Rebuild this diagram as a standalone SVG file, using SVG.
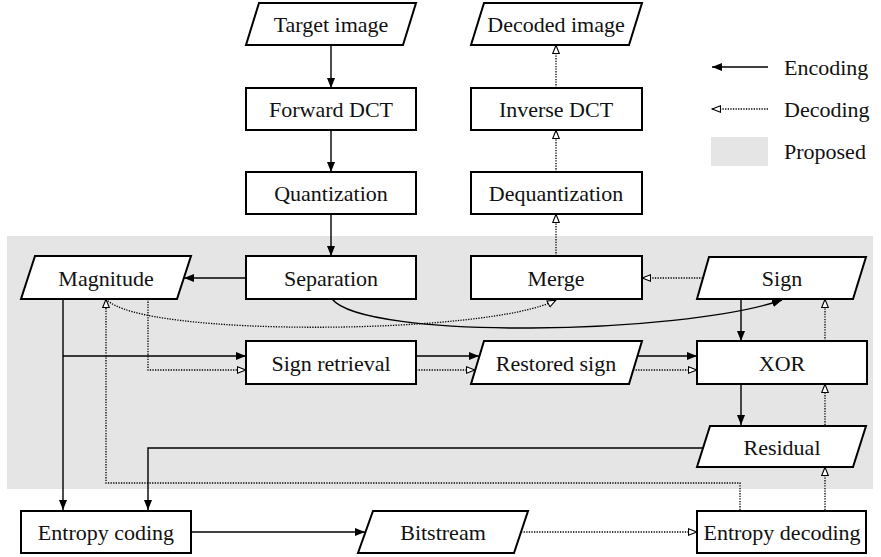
<svg xmlns="http://www.w3.org/2000/svg" width="881" height="557" viewBox="0 0 881 557">
<defs>
<marker id="fa" markerUnits="userSpaceOnUse" markerWidth="11" markerHeight="9" refX="10" refY="4" orient="auto"><path d="M0,0 L10,4 L0,8 z" fill="#000"/></marker>
<marker id="oa" markerUnits="userSpaceOnUse" markerWidth="11" markerHeight="9" refX="9.2" refY="4" orient="auto"><path d="M0.7,0.7 L9,4 L0.7,7.3 z" fill="#fff" stroke="#000" stroke-width="1.1"/></marker>
</defs>
<style>
.n{fill:#fff;stroke:#000;stroke-width:2}
.t{font-family:"Liberation Serif","Times New Roman",serif;font-size:22px;fill:#111;text-anchor:middle}
.lt{font-family:"Liberation Serif","Times New Roman",serif;font-size:22px;fill:#111}
.e{fill:none;stroke:#000;stroke-width:1.4;marker-end:url(#fa)}
.d{fill:none;stroke:#000;stroke-width:1.3;stroke-dasharray:1.3 1.3;marker-end:url(#oa)}
</style>
<rect id="proposed-region" x="7" y="236" width="866" height="253" fill="#e5e5e5"/>
<g id="connectors">
<path class="e" d="M331,45 V88"/>
<path class="e" d="M331,130 V172"/>
<path class="e" d="M331,214 V256"/>
<path class="e" d="M246,278 H184"/>
<path class="e" d="M332,299 C365,340 680,335 782,300"/>
<path class="e" d="M63,299 V510"/>
<path class="e" d="M63,356 H246"/>
<path class="e" d="M416,356 H479"/>
<path class="e" d="M637,356 H697"/>
<path class="e" d="M741,299 V341"/>
<path class="e" d="M741,384 V425"/>
<path class="e" d="M703,448 H148 V510"/>
<path class="e" d="M191,532 H365"/>
<path class="d" d="M521,532 H697"/>
<path class="d" d="M825,510 V467"/>
<path class="d" d="M825,425 V384"/>
<path class="d" d="M825,341 V299"/>
<path class="d" d="M703,278 H642"/>
<path class="d" d="M556,256 V214"/>
<path class="d" d="M556,172 V130"/>
<path class="d" d="M556,88 V45"/>
<path class="d" d="M740,510 V483 H106 V299"/>
<path class="d" d="M148,299 V370 H246"/>
<path class="d" d="M416,370 H475"/>
<path class="d" d="M633,370 H697"/>
<path class="d" d="M106,299 C140,338 490,335 556,300"/>
</g>
<g id="target-image"><path class="n" d="M259,3 H416 L403,45 H246 Z"/><text class="t" x="331" y="32">Target image</text></g>
<g id="forward-dct"><rect class="n" x="246" y="88" width="170" height="42"/><text class="t" x="331" y="117">Forward DCT</text></g>
<g id="quantization"><rect class="n" x="246" y="172" width="170" height="42"/><text class="t" x="331" y="201">Quantization</text></g>
<g id="separation"><rect class="n" x="246" y="256" width="170" height="43"/><text class="t" x="331" y="286">Separation</text></g>
<g id="sign-retrieval"><rect class="n" x="246" y="341" width="170" height="43"/><text class="t" x="331" y="371">Sign retrieval</text></g>
<g id="decoded-image"><path class="n" d="M484,3 H642 L629,45 H471 Z"/><text class="t" x="556" y="32">Decoded image</text></g>
<g id="inverse-dct"><rect class="n" x="471" y="88" width="171" height="42"/><text class="t" x="556" y="117">Inverse DCT</text></g>
<g id="dequantization"><rect class="n" x="471" y="172" width="171" height="42"/><text class="t" x="556" y="201">Dequantization</text></g>
<g id="merge"><rect class="n" x="471" y="256" width="171" height="43"/><text class="t" x="556" y="286">Merge</text></g>
<g id="restored-sign"><path class="n" d="M484,341 H642 L629,384 H471 Z"/><text class="t" x="556" y="371">Restored sign</text></g>
<g id="magnitude"><path class="n" d="M35,256 H191 L177,299 H21 Z"/><text class="t" x="106" y="286">Magnitude</text></g>
<g id="entropy-coding"><rect class="n" x="21" y="511" width="170" height="42"/><text class="t" x="106" y="540">Entropy coding</text></g>
<g id="bitstream"><path class="n" d="M373,511 H528 L514,553 H358 Z"/><text class="t" x="443" y="540">Bitstream</text></g>
<g id="sign"><path class="n" d="M709,257 H866 L853,299 H697 Z"/><text class="t" x="782" y="286">Sign</text></g>
<g id="xor"><rect class="n" x="697" y="341" width="170" height="43"/><text class="t" x="782" y="371">XOR</text></g>
<g id="residual"><path class="n" d="M710,426 H866 L853,467 H697 Z"/><text class="t" x="782" y="455">Residual</text></g>
<g id="entropy-decoding"><rect class="n" x="697" y="511" width="169" height="42"/><text class="t" x="782" y="540">Entropy decoding</text></g>
<g id="legend">
<path class="e" d="M768,67 H712"/>
<text class="lt" x="784" y="75">Encoding</text>
<path class="d" d="M768,109 H712"/>
<text class="lt" x="784" y="117">Decoding</text>
<rect x="711" y="137" width="57" height="29" fill="#e5e5e5"/>
<text class="lt" x="784" y="159">Proposed</text>
</g>
</svg>
